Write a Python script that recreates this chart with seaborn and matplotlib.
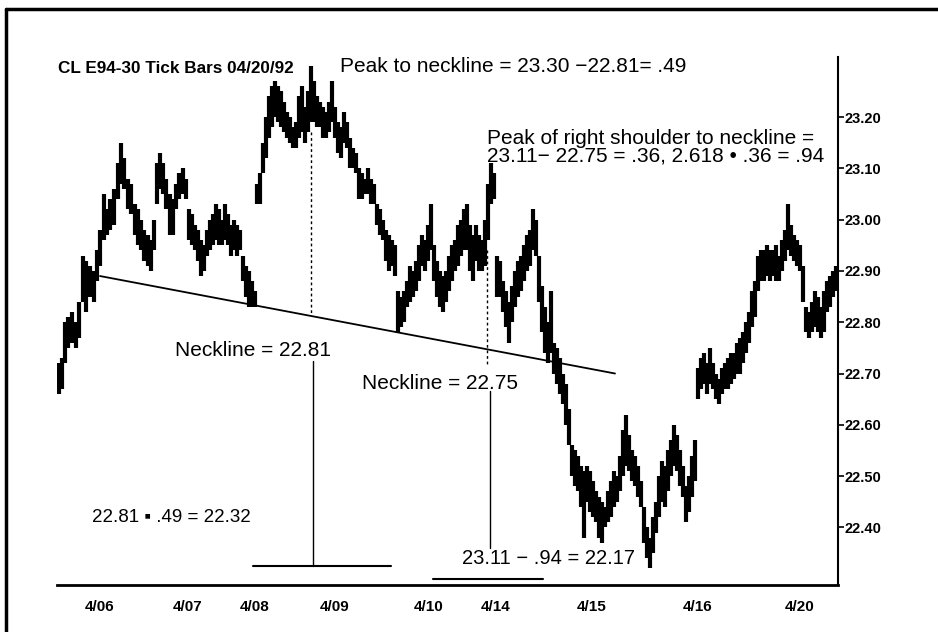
import matplotlib
matplotlib.use("Agg")
import matplotlib.pyplot as plt
import seaborn as sns
from matplotlib.lines import Line2D

# tick bar data (bar number, high, low)
bar_no = [2, 5, 8, 11, 15, 19, 22, 26, 29, 33, 37, 40, 43, 47, 50, 53, 57, 61, 64, 67,
          71, 74, 78, 81, 84, 87, 91, 94, 97, 100, 103, 106, 109, 113, 116, 119, 122, 126, 129, 132,
          135, 138, 141, 144, 147, 150, 153, 156, 159, 162, 165, 168, 171, 174, 177, 180, 183, 186, 189, 192,
          195, 198, 200, 203, 206, 209, 212, 215, 218, 221, 224, 227, 230, 233, 236, 239, 242, 245, 248, 251,
          254, 257, 260, 263, 266, 269, 272, 275, 278, 281, 284, 287, 290, 293, 296, 299, 302, 305, 308, 311,
          314, 317, 320, 323, 326, 329, 332, 335, 338, 341, 344, 347, 350, 353, 356, 359, 362, 365, 368, 371,
          374, 377, 380, 383, 386, 389, 392, 395, 398, 401, 404, 407, 410, 413, 416, 419, 422, 425, 428, 431,
          434, 437, 440, 443, 446, 449, 452, 455, 458, 461, 464, 467, 470, 473, 476, 479, 482, 485, 488, 491,
          494, 497, 500, 503, 506, 509, 512, 515, 518, 521, 524, 527, 530, 533, 536, 539, 542, 545, 548, 551,
          554, 557, 560, 563, 566, 569, 572, 575, 578, 581, 584, 587, 590, 593, 596, 599, 602, 605, 608, 611,
          614, 617, 620, 623, 626, 629, 632, 635, 638, 641, 644, 647, 650, 653, 656, 659, 662, 665, 668, 671,
          674, 677, 680, 683, 686, 689, 692, 695, 698, 701, 704, 707, 710, 713, 716, 719, 722, 725, 728, 731,
          734, 737, 740, 743, 746, 749, 752, 755, 758, 761, 764, 767, 770, 773, 776, 779]
bar_high = [22.72, 22.73, 22.80, 22.81, 22.82, 22.80, 22.84, 22.93, 22.92, 22.91, 22.90, 22.94, 22.98, 23.05, 23.02, 23.04, 23.06, 23.11, 23.15, 23.12,
            23.08, 23.07, 23.03, 23.02, 23.00, 22.98, 22.97, 22.96, 23.00, 23.11, 23.13, 23.11, 23.08, 23.05, 23.04, 23.07, 23.09, 23.10, 23.08, 23.02,
            23.01, 22.99, 22.98, 22.96, 22.95, 22.98, 23.00, 23.01, 23.03, 23.02, 23.00, 23.03, 23.01, 22.99, 23.00, 22.99, 22.98, 22.93, 22.91, 22.90,
            22.88, 22.86, 23.07, 23.09, 23.15, 23.20, 23.24, 23.26, 23.27, 23.26, 23.25, 23.23, 23.21, 23.20, 23.18, 23.19, 23.24, 23.26, 23.22, 23.25,
            23.30, 23.27, 23.24, 23.23, 23.22, 23.21, 23.23, 23.27, 23.22, 23.19, 23.18, 23.21, 23.19, 23.16, 23.14, 23.13, 23.10, 23.09, 23.08, 23.10,
            23.08, 23.07, 23.03, 23.02, 23.00, 22.98, 22.97, 22.96, 22.95, 22.86, 22.85, 22.86, 22.88, 22.91, 22.90, 22.92, 22.95, 22.97, 22.96, 22.99,
            23.03, 22.95, 22.92, 22.90, 22.89, 22.90, 22.93, 22.95, 22.96, 22.99, 23.00, 23.02, 23.03, 22.99, 22.97, 22.99, 22.97, 22.96, 23.00, 23.07,
            23.11, 23.09, 22.93, 22.92, 22.88, 22.86, 22.84, 22.87, 22.90, 22.92, 22.93, 22.95, 22.97, 22.98, 23.02, 23.00, 22.93, 22.87, 22.83, 22.80,
            22.86, 22.76, 22.75, 22.73, 22.70, 22.68, 22.63, 22.56, 22.55, 22.54, 22.52, 22.51, 22.52, 22.51, 22.49, 22.47, 22.46, 22.45, 22.44, 22.47,
            22.49, 22.51, 22.50, 22.54, 22.59, 22.62, 22.58, 22.55, 22.54, 22.52, 22.49, 22.44, 22.40, 22.38, 22.42, 22.45, 22.50, 22.53, 22.52, 22.55,
            22.57, 22.60, 22.58, 22.55, 22.52, 22.48, 22.50, 22.54, 22.57, 22.71, 22.73, 22.74, 22.72, 22.75, 22.72, 22.70, 22.69, 22.71, 22.72, 22.73,
            22.74, 22.74, 22.76, 22.77, 22.78, 22.80, 22.82, 22.86, 22.88, 22.93, 22.94, 22.94, 22.95, 22.94, 22.94, 22.95, 22.93, 22.96, 22.98, 23.03,
            22.99, 22.97, 22.96, 22.95, 22.91, 22.83, 22.82, 22.84, 22.86, 22.85, 22.83, 22.86, 22.88, 22.89, 22.90, 22.91]
bar_low = [22.66, 22.67, 22.72, 22.75, 22.76, 22.75, 22.77, 22.84, 22.82, 22.85, 22.84, 22.88, 22.91, 22.96, 22.97, 22.98, 22.99, 23.04, 23.07, 23.06,
           23.02, 23.01, 22.97, 22.95, 22.94, 22.92, 22.91, 22.90, 22.94, 23.03, 23.06, 23.05, 23.02, 22.97, 22.97, 23.02, 23.04, 23.05, 23.04, 22.96,
           22.95, 22.94, 22.92, 22.89, 22.90, 22.93, 22.94, 22.95, 22.96, 22.95, 22.95, 22.96, 22.95, 22.93, 22.94, 22.93, 22.94, 22.88, 22.85, 22.83,
           22.83, 22.83, 23.03, 23.03, 23.09, 23.12, 23.16, 23.18, 23.20, 23.19, 23.18, 23.17, 23.16, 23.15, 23.14, 23.14, 23.16, 23.17, 23.15, 23.17,
           23.19, 23.19, 23.18, 23.18, 23.16, 23.16, 23.17, 23.19, 23.16, 23.13, 23.12, 23.15, 23.14, 23.10, 23.10, 23.09, 23.04, 23.04, 23.05, 23.05,
           23.03, 23.03, 22.99, 22.97, 22.96, 22.92, 22.90, 22.91, 22.89, 22.78, 22.79, 22.80, 22.83, 22.84, 22.85, 22.86, 22.88, 22.91, 22.90, 22.92,
           22.94, 22.88, 22.85, 22.83, 22.82, 22.84, 22.86, 22.88, 22.90, 22.91, 22.93, 22.94, 22.94, 22.90, 22.88, 22.92, 22.90, 22.90, 22.91, 22.96,
           23.03, 23.04, 22.85, 22.85, 22.82, 22.79, 22.76, 22.80, 22.83, 22.85, 22.86, 22.88, 22.90, 22.91, 22.94, 22.93, 22.84, 22.78, 22.74, 22.72,
           22.74, 22.70, 22.68, 22.66, 22.64, 22.60, 22.56, 22.50, 22.48, 22.47, 22.44, 22.38, 22.45, 22.43, 22.42, 22.41, 22.38, 22.37, 22.40, 22.41,
           22.42, 22.44, 22.45, 22.47, 22.50, 22.52, 22.51, 22.49, 22.48, 22.46, 22.44, 22.37, 22.34, 22.32, 22.35, 22.39, 22.42, 22.45, 22.44, 22.47,
           22.50, 22.52, 22.51, 22.48, 22.46, 22.41, 22.43, 22.46, 22.49, 22.65, 22.67, 22.68, 22.66, 22.68, 22.67, 22.65, 22.64, 22.66, 22.67, 22.67,
           22.68, 22.69, 22.70, 22.70, 22.72, 22.74, 22.76, 22.79, 22.81, 22.86, 22.88, 22.88, 22.89, 22.88, 22.89, 22.88, 22.88, 22.90, 22.92, 22.94,
           22.93, 22.92, 22.91, 22.90, 22.84, 22.78, 22.77, 22.78, 22.79, 22.78, 22.77, 22.78, 22.82, 22.83, 22.85, 22.86]

# neckline and projection lines
neck_x = [43, 558]
neck_y = [22.89, 22.70]
head_bar = 254
head_peak = 23.17
head_neck = 22.815
head_target_top = 22.725
head_target = 22.325
head_target_span = [196, 334]
shoulder_bar = 430
shoulder_peak = 22.94
shoulder_neck = 22.715
shoulder_target_top = 22.665
shoulder_target_bottom = 22.36
shoulder_target = 22.30
shoulder_target_span = [376, 486]

date_ticks = [43, 131, 198, 278, 372, 439, 535, 641, 743]
date_labels = ["4/06", "4/07", "4/08", "4/09", "4/10", "4/14", "4/15", "4/16", "4/20"]
minor_ticks = [81, 190, 245, 301, 355, 465, 520, 575, 626, 683, 738]
price_ticks = [23.20, 23.10, 23.00, 22.90, 22.80, 22.70, 22.60, 22.50, 22.40]
price_labels = ["23.20", "23.10", "23.00", "22.90", "22.80", "22.70", "22.60", "22.50", "22.40"]

sns.set_style("white")
plt.rcParams["font.family"] = ["Liberation Sans", "DejaVu Sans"]
plt.rcParams["text.color"] = "black"

fig = plt.figure(figsize=(9.38, 6.32), dpi=100)
ax = fig.add_axes([57 / 938, 47 / 632, 781 / 938, 528 / 632])

# the tick bars
ax.vlines(bar_no, bar_low, bar_high, color="black", linewidth=3.0)

# neckline
sns.lineplot(x=neck_x, y=neck_y, ax=ax, color="black", linewidth=1.3)

# head projection
ax.plot([head_bar, head_bar], [head_peak, head_neck], color="black", linewidth=1.0, linestyle=(0, (2, 2)))
ax.plot([head_bar + 2, head_bar + 2], [head_target_top, head_target], color="black", linewidth=1.0)
ax.plot(head_target_span, [head_target, head_target], color="black", linewidth=1.5)

# right shoulder projection
ax.plot([shoulder_bar, shoulder_bar], [shoulder_peak, shoulder_neck], color="black", linewidth=1.0, linestyle=(0, (2, 2)))
ax.plot([shoulder_bar + 3, shoulder_bar + 3], [shoulder_target_top, shoulder_target_bottom], color="black", linewidth=1.0)
ax.plot(shoulder_target_span, [shoulder_target, shoulder_target], color="black", linewidth=1.5)

ax.set_xlim(0, 781)
ax.set_ylim(22.2877, 23.317)

for side in ["left", "top"]:
    ax.spines[side].set_visible(False)
ax.spines["right"].set_linewidth(1.5)
ax.spines["bottom"].set_linewidth(2.0)
ax.spines["right"].set_color("black")
ax.spines["bottom"].set_color("black")

ax.yaxis.tick_right()
ax.set_yticks(price_ticks)
ax.set_yticklabels(price_labels, fontsize=10.5, fontweight="bold")
ax.set_xticks(date_ticks)
ax.set_xticklabels(date_labels, fontsize=11, fontweight="bold")
ax.set_xticks(minor_ticks, minor=True)
ax.tick_params(axis="y", direction="out", length=4, width=1.2, pad=1, colors="black")
ax.tick_params(axis="x", which="both", direction="out", length=5, width=1.2, pad=6, colors="black")
ax.tick_params(axis="x", which="minor", length=4)

# annotations
ax.text(1, 23.295, "CL E94-30 Tick Bars 04/20/92", fontsize=12.3, fontweight="bold",
        va="center", ha="left")
ax.text(283, 23.298, "Peak to neckline = 23.30 \u221222.81= .49", fontsize=15, va="center", ha="left")
ax.text(430, 23.158, "Peak of right shoulder to neckline =", fontsize=15, va="center", ha="left")
ax.text(430, 23.124, "23.11\u2212 22.75 = .36, 2.618 \u2022 .36 = .94", fontsize=15, va="center", ha="left")
ax.text(118, 22.745, "Neckline = 22.81", fontsize=15, va="center", ha="left")
ax.text(305, 22.68, "Neckline = 22.75", fontsize=15, va="center", ha="left")
ax.text(35, 22.42, "22.81 \u25aa .49 = 22.32", fontsize=13.5, va="center", ha="left")
ax.text(405, 22.34, "23.11 \u2212 .94 = 22.17", fontsize=14.5, va="center", ha="left")

# scanned page frame
fig.add_artist(Line2D([6 / 938, 6 / 938], [0, 1 - 9 / 632], transform=fig.transFigure, color="black", linewidth=2.5))
fig.add_artist(Line2D([6 / 938, 1], [1 - 9 / 632, 1 - 9 / 632], transform=fig.transFigure, color="black", linewidth=2.5))

fig.savefig("out.png", dpi=100, facecolor="white")
